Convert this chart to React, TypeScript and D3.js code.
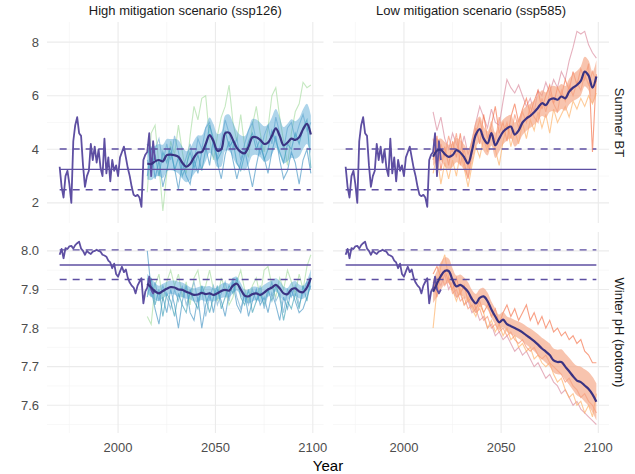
import React from 'react';
import * as d3 from 'd3';

// observed series, 1970-2019
const obsYears = d3.range(1970, 2020);
const obsBT = [3.35, 2.6, 2.2, 3.0, 3.2, 2.7, 2.0, 4.3, 4.9, 5.2,
  4.6, 4.5, 3.4, 2.6, 3.0, 3.2, 4.2, 3.6, 4.1, 3.5,
  4.0, 3.3, 3.0, 4.4, 3.1, 3.7, 2.8, 3.6, 3.2, 3.4,
  3.0, 3.7, 3.9, 4.1, 3.7, 3.3, 3.0, 2.6, 2.3, 2.25,
  2.3, 2.2, 1.85, 3.6, 3.8, 3.9, 4.6, 3.0, 4.3, 3.6];
const obsPH = [7.99, 8.005, 7.981, 8.007, 8.005, 8.012, 8.013, 8.006, 8.015, 8.02,
  8.024, 8.006, 8.0, 7.99, 8.0, 7.995, 7.992, 7.998, 8.0, 8.003,
  8.0, 7.998, 7.99, 7.988, 7.985, 7.975, 7.97, 7.955, 7.967, 7.94,
  7.933, 7.947, 7.959, 7.945, 7.952, 7.93, 7.918, 7.91, 7.905, 7.89,
  7.91, 7.92, 7.929, 7.864, 7.895, 7.905, 7.933, 7.9, 7.89, 7.9];

// reference lines: low, mean, high
const refBT = [2.49, 3.25, 4.01];
const refPH = [7.926, 7.9636, 8.0026];

// projections, every 2nd year 2015-2099
const projYears = d3.range(2015, 2100, 2);

const mean126BT = [3.47, 3.45, 3.55, 3.6, 3.55, 3.78, 3.8, 3.78, 3.72, 3.5,
  3.35, 3.45, 3.7, 3.88, 3.9, 4.2, 4.53, 4.3, 3.95, 4.0,
  4.6, 4.62, 4.35, 4.05, 3.9, 3.85, 4.1, 4.45, 4.45, 4.35,
  4.2, 4.25, 4.5, 4.78, 4.5, 4.15, 4.25, 4.4, 4.35, 4.45,
  4.75, 4.95, 4.55];
const sd126BT = [0.6, 0.6, 0.58, 0.6, 0.62, 0.6, 0.58, 0.6, 0.62, 0.6,
  0.58, 0.6, 0.62, 0.64, 0.62, 0.65, 0.66, 0.64, 0.62, 0.64,
  0.66, 0.68, 0.66, 0.64, 0.62, 0.64, 0.66, 0.68, 0.66, 0.64,
  0.66, 0.68, 0.7, 0.72, 0.7, 0.68, 0.7, 0.72, 0.7, 0.72,
  0.74, 0.75, 0.72];
const m126BT_a = [2.4, 4.6, 4.9, 3.4, 1.7, 3.1, 4.3, 3.8, 4.9, 3.9,
  3.1, 4.5, 5.6, 5.1, 5.9, 6.0, 4.4, 3.6, 4.5, 5.2,
  5.6, 6.4, 5.0, 4.3, 5.3, 4.1, 3.7, 4.9, 5.6, 4.6,
  3.9, 4.8, 6.0, 6.3, 5.2, 4.3, 3.4, 4.6, 5.4, 5.7,
  6.5, 6.3, 6.4];
const m126BT_b = [3.0, 4.1, 2.9, 3.6, 2.6, 3.2, 3.9, 3.3, 2.5, 3.5,
  3.0, 2.7, 3.6, 3.1, 3.9, 4.1, 3.4, 4.4, 3.5, 2.9,
  3.8, 4.3, 3.6, 2.9, 3.5, 4.0, 3.3, 2.6, 3.4, 4.1,
  3.7, 3.1, 3.9, 4.5, 3.6, 2.9, 3.2, 3.9, 3.5, 2.7,
  3.6, 4.0, 3.1];
const m126BT_c = [3.6, 3.1, 4.0, 4.4, 3.5, 4.2, 3.6, 4.5, 3.9, 3.2,
  3.7, 4.2, 3.5, 4.4, 4.0, 4.8, 5.0, 4.1, 3.7, 4.3,
  5.1, 4.6, 4.0, 4.4, 3.6, 4.2, 4.7, 5.0, 4.3, 3.8,
  4.5, 4.9, 4.2, 5.2, 4.6, 4.0, 4.8, 5.0, 4.4, 4.9,
  5.3, 4.7, 5.0];
const m126BT_d = [4.2, 3.3, 3.8, 3.0, 3.9, 3.5, 4.1, 3.2, 3.7, 3.0,
  3.4, 3.9, 3.3, 3.8, 3.2, 4.0, 4.9, 4.4, 3.6, 3.9,
  4.7, 4.1, 4.3, 3.5, 3.2, 3.8, 4.3, 4.6, 4.0, 4.4,
  3.6, 4.0, 4.7, 4.3, 3.9, 3.5, 4.2, 4.0, 4.6, 4.2,
  4.8, 5.1, 3.3];

const mean585BT = [3.72, 3.95, 3.98, 3.82, 3.72, 3.78, 3.97, 3.88, 3.7, 3.47,
  3.95, 4.55, 4.75, 4.4, 4.22, 4.6, 4.15, 4.4, 4.65, 4.78,
  4.85, 4.55, 4.7, 5.0, 5.15, 5.25, 5.38, 5.55, 5.72, 5.65,
  5.85, 5.9, 5.85, 5.97, 5.9, 6.15, 6.3, 6.4, 6.55, 6.9,
  6.75, 6.3, 6.72];
const sd585BT = [0.35, 0.4, 0.42, 0.45, 0.45, 0.44, 0.45, 0.46, 0.48, 0.5,
  0.5, 0.48, 0.47, 0.46, 0.45, 0.46, 0.47, 0.48, 0.46, 0.45,
  0.44, 0.45, 0.46, 0.47, 0.46, 0.45, 0.46, 0.47, 0.48, 0.47,
  0.46, 0.47, 0.48, 0.47, 0.46, 0.48, 0.5, 0.52, 0.54, 0.55,
  0.56, 0.58, 0.6];
const m585BT_a = [5.4, 4.7, 5.2, 4.4, 4.0, 4.6, 4.2, 3.9, 4.5, 3.8,
  4.3, 5.0, 5.6, 5.2, 4.8, 5.5, 5.0, 4.9, 5.8, 6.6,
  6.3, 6.1, 6.4, 6.0, 5.6, 5.9, 5.4, 6.2, 6.0, 6.5,
  6.1, 6.6, 6.3, 6.9, 6.6, 7.3, 7.8, 8.4, 8.3, 8.4,
  7.9, 7.6, 7.4];
const m585BT_b = [3.6, 4.5, 3.2, 4.1, 3.4, 4.3, 3.7, 4.6, 3.5, 2.9,
  3.9, 4.8, 4.2, 5.3, 4.4, 4.9, 5.6, 4.6, 5.0, 4.3,
  5.2, 5.7, 5.0, 5.5, 5.9, 5.3, 5.8, 6.2, 5.5, 6.0,
  6.4, 5.7, 6.3, 6.0, 6.6, 6.2, 6.9, 6.4, 7.0, 6.6,
  7.2, 3.9, 6.8];
const m585BT_c = [3.1, 3.8, 2.7, 3.5, 2.9, 3.6, 3.0, 3.9, 3.3, 2.6,
  3.4, 4.1, 3.7, 4.4, 3.9, 4.6, 4.0, 3.4, 4.3, 4.9,
  4.1, 4.7, 4.2, 5.0, 4.4, 5.1, 4.7, 5.4, 4.8, 5.3,
  4.6, 5.5, 5.0, 5.3, 5.6, 5.2, 5.8, 5.5, 5.9, 5.6,
  6.0, 5.7, 6.1];
const m585BT_d = [4.4, 3.4, 4.2, 3.7, 4.5, 3.9, 4.6, 3.4, 4.0, 3.3,
  4.2, 4.6, 5.1, 4.5, 4.1, 4.7, 4.3, 5.2, 4.6, 5.0,
  4.4, 5.3, 4.8, 5.4, 5.0, 5.6, 5.2, 5.0, 5.9, 5.4,
  6.1, 5.7, 5.4, 6.2, 5.8, 6.4, 6.0, 6.5, 6.2, 6.8,
  6.4, 6.9, 6.5];

const mean126PH = [7.915, 7.905, 7.895, 7.89, 7.896, 7.902, 7.906, 7.905, 7.9, 7.899,
  7.894, 7.89, 7.886, 7.887, 7.891, 7.888, 7.89, 7.886, 7.89, 7.896,
  7.899, 7.897, 7.91, 7.915, 7.9, 7.884, 7.882, 7.888, 7.89, 7.886,
  7.892, 7.9, 7.905, 7.912, 7.903, 7.89, 7.888, 7.9, 7.903, 7.895,
  7.893, 7.905, 7.93];
const sd126PH = [0.026, 0.024, 0.022, 0.02, 0.019, 0.018, 0.017, 0.018, 0.02, 0.019,
  0.018, 0.016, 0.017, 0.019, 0.018, 0.02, 0.019, 0.017, 0.016, 0.018,
  0.019, 0.018, 0.02, 0.018, 0.017, 0.016, 0.018, 0.019, 0.017, 0.018,
  0.02, 0.019, 0.018, 0.017, 0.019, 0.018, 0.016, 0.018, 0.019, 0.018,
  0.017, 0.019, 0.022];
const m126PH_a = [7.83, 7.81, 7.91, 7.94, 7.87, 7.92, 7.95, 7.91, 7.94, 7.88,
  7.92, 7.86, 7.93, 7.95, 7.89, 7.91, 7.95, 7.9, 7.87, 7.93,
  7.9, 7.86, 7.88, 7.92, 7.95, 7.9, 7.87, 7.91, 7.93, 7.88,
  7.95, 7.96, 7.91, 7.88, 7.93, 7.9, 7.95, 7.92, 7.89, 7.94,
  7.9, 7.96, 7.99];
const m126PH_b = [8.0, 7.9, 7.85, 7.81, 7.88, 7.84, 7.9, 7.86, 7.8, 7.87,
  7.91, 7.84, 7.82, 7.88, 7.8, 7.86, 7.89, 7.84, 7.9, 7.87,
  7.83, 7.89, 7.92, 7.86, 7.84, 7.89, 7.83, 7.87, 7.9, 7.86,
  7.88, 7.84, 7.89, 7.86, 7.82, 7.88, 7.85, 7.9, 7.87, 7.84,
  7.85, 7.88, 7.91];
const m126PH_c = [7.93, 7.88, 7.92, 7.87, 7.91, 7.88, 7.85, 7.9, 7.87, 7.91,
  7.86, 7.89, 7.92, 7.87, 7.9, 7.83, 7.88, 7.91, 7.86, 7.89,
  7.92, 7.87, 7.93, 7.88, 7.85, 7.89, 7.86, 7.9, 7.87, 7.91,
  7.85, 7.89, 7.92, 7.87, 7.89, 7.84, 7.9, 7.88, 7.91, 7.86,
  7.89, 7.92, 7.9];
const m126PH_d = [7.88, 7.93, 7.86, 7.9, 7.83, 7.89, 7.87, 7.83, 7.89, 7.86,
  7.84, 7.9, 7.87, 7.85, 7.91, 7.88, 7.84, 7.88, 7.91, 7.85,
  7.88, 7.91, 7.89, 7.93, 7.88, 7.86, 7.9, 7.84, 7.87, 7.89,
  7.86, 7.9, 7.87, 7.91, 7.88, 7.82, 7.87, 7.85, 7.89, 7.85,
  7.91, 7.87, 7.93];

const mean585PH = [7.894, 7.915, 7.935, 7.948, 7.948, 7.925, 7.908, 7.912, 7.905, 7.894,
  7.875, 7.864, 7.878, 7.882, 7.87, 7.848, 7.83, 7.815, 7.822, 7.81,
  7.805, 7.8, 7.795, 7.789, 7.781, 7.774, 7.766, 7.757, 7.747, 7.739,
  7.73, 7.716, 7.712, 7.712, 7.7, 7.688, 7.675, 7.664, 7.66, 7.651,
  7.642, 7.628, 7.609];
const sd585PH = [0.03, 0.034, 0.036, 0.035, 0.032, 0.03, 0.028, 0.027, 0.026, 0.025,
  0.024, 0.024, 0.023, 0.022, 0.022, 0.021, 0.021, 0.02, 0.02, 0.02,
  0.021, 0.021, 0.022, 0.023, 0.024, 0.025, 0.026, 0.027, 0.028, 0.029,
  0.03, 0.031, 0.032, 0.033, 0.034, 0.035, 0.036, 0.038, 0.04, 0.042,
  0.044, 0.046, 0.048];
const m585PH_a = [7.9, 7.93, 7.91, 7.94, 7.9, 7.92, 7.88, 7.89, 7.86, 7.87,
  7.84, 7.85, 7.82, 7.83, 7.8, 7.81, 7.78, 7.79, 7.77, 7.78,
  7.76, 7.74, 7.75, 7.73, 7.74, 7.72, 7.7, 7.71, 7.69, 7.67,
  7.68, 7.66, 7.65, 7.63, 7.64, 7.62, 7.6, 7.61, 7.59, 7.58,
  7.57, 7.56, 7.55];
const m585PH_b = [7.94, 7.96, 7.93, 7.95, 7.92, 7.9, 7.93, 7.89, 7.91, 7.87,
  7.88, 7.85, 7.87, 7.84, 7.86, 7.83, 7.85, 7.81, 7.84, 7.86,
  7.83, 7.85, 7.82, 7.84, 7.86, 7.82, 7.84, 7.81, 7.83, 7.8,
  7.82, 7.79, 7.8, 7.78, 7.79, 7.77, 7.78, 7.76, 7.77, 7.74,
  7.73, 7.71, 7.71];
const m585PH_c = [7.8, 7.9, 7.96, 7.99, 7.93, 7.9, 7.87, 7.9, 7.86, 7.88,
  7.85, 7.83, 7.86, 7.84, 7.8, 7.82, 7.79, 7.81, 7.78, 7.8,
  7.77, 7.78, 7.75, 7.76, 7.74, 7.75, 7.72, 7.73, 7.71, 7.7,
  7.71, 7.68, 7.66, 7.67, 7.64, 7.62, 7.63, 7.6, 7.61, 7.58,
  7.6, 7.57, 7.63];
const m585PH_d = [7.92, 7.88, 7.94, 7.91, 7.93, 7.89, 7.9, 7.87, 7.88, 7.85,
  7.86, 7.84, 7.85, 7.82, 7.83, 7.8, 7.81, 7.79, 7.8, 7.78,
  7.79, 7.77, 7.76, 7.77, 7.75, 7.74, 7.75, 7.73, 7.72, 7.73,
  7.71, 7.7, 7.69, 7.68, 7.66, 7.67, 7.65, 7.64, 7.62, 7.63,
  7.61, 7.6, 7.58];

const colTitles = ['High mitigation scenario (ssp126)', 'Low mitigation scenario (ssp585)'];
const rowTitles = ['Summer BT', 'Winter pH (bottom)'];
const btTicks = [2, 4, 6, 8];
const btMinor = [3, 5, 7];
const phTicks = [7.6, 7.7, 7.8, 7.9, 8.0];
const phMinor = [7.55, 7.65, 7.75, 7.85, 7.95];
const xTicks = [2000, 2050, 2100];
const xMinor = [1975, 2025, 2075];

const blues = ['#a6dba0', '#4393c3', '#74add1', '#3f9fb5'];
const reds = ['#d9879b', '#f46d43', '#fdae61', '#f88e6b'];

const obsColor = '#5e4fa2';
const meanColor = '#3a3382';

const colX: [number, number][] = [[47, 323.5], [333, 609]];
const rowY: [number, number][] = [[22, 223], [232, 433]];

const rows = [
  { obs: obsBT, ref: refBT, ticks: btTicks, minor: btMinor, dom: [1.25, 8.75], fmt: d3.format('d'),
    cols: [
      { mean: mean126BT, sd: sd126BT, members: [m126BT_a, m126BT_b, m126BT_c, m126BT_d], pal: blues, rib: '#4a9fd1', ro: 0.45 },
      { mean: mean585BT, sd: sd585BT, members: [m585BT_a, m585BT_b, m585BT_c, m585BT_d], pal: reds, rib: '#f4a582', ro: 0.65 },
    ] },
  { obs: obsPH, ref: refPH, ticks: phTicks, minor: phMinor, dom: [7.528, 8.049], fmt: d3.format('.1f'),
    cols: [
      { mean: mean126PH, sd: sd126PH, members: [m126PH_a, m126PH_b, m126PH_c, m126PH_d], pal: blues, rib: '#4a9fd1', ro: 0.45 },
      { mean: mean585PH, sd: sd585PH, members: [m585PH_a, m585PH_b, m585PH_c, m585PH_d], pal: reds, rib: '#f4a582', ro: 0.65 },
    ] },
];

const font = 'Liberation Sans, Arial, sans-serif';

export default function App() {
  return (
    <svg width={635} height={474} style={{ position: 'absolute', left: 0, top: 0, background: '#fff' }}
      fontFamily={font}>
      {rows.map((row, r) => {
        const y = d3.scaleLinear().domain(row.dom).range([rowY[r][1], rowY[r][0]]);
        return row.cols.map((col, c) => {
          const x = d3.scaleLinear().domain([1963.5, 2105.5]).range(colX[c]);
          const line = d3.line<[number, number]>().x(d => x(d[0])).y(d => y(d[1]));
          const smooth = d3.line<[number, number]>().x(d => x(d[0])).y(d => y(d[1])).curve(d3.curveCatmullRom);
          const area = d3.area<number>()
            .x((_, i) => x(projYears[i]))
            .y0((m, i) => y(m - col.sd[i]))
            .y1((m, i) => y(m + col.sd[i]))
            .curve(d3.curveCatmullRom);
          const [x0, x1] = colX[c];
          const [y0, y1] = rowY[r];
          return (
            <g key={`${r}-${c}`}>
              {row.minor.map(t => (
                <line key={'ym' + t} x1={x0} x2={x1} y1={y(t)} y2={y(t)} stroke="#f3f3f3" strokeWidth={0.6} />
              ))}
              {xMinor.map(t => (
                <line key={'xm' + t} x1={x(t)} x2={x(t)} y1={y0} y2={y1} stroke="#f3f3f3" strokeWidth={0.6} />
              ))}
              {row.ticks.map(t => (
                <line key={'yt' + t} x1={x0} x2={x1} y1={y(t)} y2={y(t)} stroke="#ebebeb" strokeWidth={1.1} />
              ))}
              {xTicks.map(t => (
                <line key={'xt' + t} x1={x(t)} x2={x(t)} y1={y0} y2={y1} stroke="#ebebeb" strokeWidth={1.1} />
              ))}
              {col.members.map((m, k) => (
                <path key={'m' + k} d={line(m.map((v, i) => [projYears[i], v]))!} fill="none"
                  stroke={col.pal[k]} strokeWidth={1.1} strokeOpacity={0.65} />
              ))}
              <path d={area(col.mean)!} fill={col.rib} fillOpacity={col.ro} />
              {row.ref.map((v, k) => (
                <line key={'r' + k} x1={x(1970)} x2={x(2099)} y1={y(v)} y2={y(v)} stroke={obsColor}
                  strokeWidth={1.4} strokeDasharray={k === 1 ? undefined : '7,6'} />
              ))}
              <path d={line(row.obs.map((v, i) => [obsYears[i], v]))!} fill="none" stroke={obsColor}
                strokeWidth={1.8} strokeLinejoin="round" />
              <path d={smooth(col.mean.map((v, i) => [projYears[i], v]))!} fill="none" stroke={meanColor}
                strokeWidth={2.2} />
              {c === 0 && row.ticks.map(t => (
                <text key={'yl' + t} x={39} y={y(t)} dy="0.35em" textAnchor="end" fontSize={13} fill="#4d4d4d">
                  {row.fmt(t)}
                </text>
              ))}
              {r === 1 && xTicks.map(t => (
                <text key={'xl' + t} x={x(t)} y={452} textAnchor="middle" fontSize={13} fill="#4d4d4d">{t}</text>
              ))}
              {r === 0 && (
                <text x={(x0 + x1) / 2} y={15} textAnchor="middle" fontSize={13} fill="#1a1a1a">{colTitles[c]}</text>
              )}
              {c === 1 && (
                <text transform={`translate(615,${(y0 + y1) / 2}) rotate(90)`} textAnchor="middle" fontSize={13}
                  fill="#1a1a1a">{rowTitles[r]}</text>
              )}
            </g>
          );
        });
      })}
      <text x={328} y={471} textAnchor="middle" fontSize={15} fill="#000">Year</text>
    </svg>
  );
}
